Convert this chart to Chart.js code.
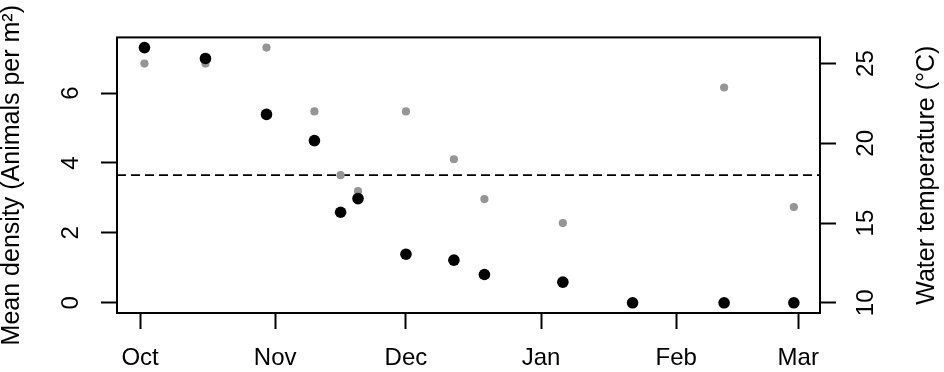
<!DOCTYPE html>
<html>
<head>
<meta charset="utf-8">
<script src="https://cdn.jsdelivr.net/npm/chart.js@4.4.1/dist/chart.umd.min.js"></script>
<style>
    html, body { margin: 0; padding: 0; background: #fff; }
</style>
</head>
<body>
<canvas id="myChart" width="944" height="372"></canvas>
<script>
// sampling days, counted from 1 October
var sampleDays = [1, 15, 29, 40, 46, 50, 61, 72, 79, 97, 113, 134, 150];
var density = [7.30, 6.99, 5.39, 4.64, 2.59, 2.98, 1.39, 1.22, 0.81, 0.59, 0, 0, 0];
var waterTemp = [25.0, 25.0, 26.0, 22.0, 18.0, 17.0, 22.0, 19.0, 16.5, 15.0, null, 23.5, 16.0];
var tempThreshold = 18;

var monthLabels = ['Oct', 'Nov', 'Dec', 'Jan', 'Feb', 'Mar'];
var monthStartDays = [0, 31, 61, 92, 123, 151];
var densityTicks = [0, 2, 4, 6];
var tempTicks = [10, 15, 20, 25];

window.onload = function () {
    Chart.defaults.font.family = '"Liberation Sans", Arial, sans-serif';
    Chart.defaults.color = '#000';

    var densityPoints = sampleDays.map(function (d, i) { return { x: d, y: density[i] }; });
    var tempPoints = [];
    sampleDays.forEach(function (d, i) {
        if (waterTemp[i] !== null) tempPoints.push({ x: d, y: waterTemp[i] });
    });

    // box, dashed threshold line and right-hand title
    var extras = {
        id: 'extras',
        beforeDatasetsDraw(chart) {
            var ctx = chart.ctx;
            var a = chart.chartArea;
            var yT = chart.scales.y2.getPixelForValue(tempThreshold);
            ctx.save();
            ctx.strokeStyle = '#000';
            ctx.lineWidth = 1.8;
            ctx.setLineDash([9, 5]);
            ctx.beginPath();
            ctx.moveTo(a.left, yT);
            ctx.lineTo(a.right, yT);
            ctx.stroke();
            ctx.setLineDash([]);
            ctx.lineWidth = 2;
            ctx.strokeRect(a.left, a.top, a.right - a.left, a.bottom - a.top);
            ctx.restore();
        },
        afterDraw(chart) {
            var ctx = chart.ctx;
            var a = chart.chartArea;
            ctx.save();
            ctx.translate(chart.scales.y2.right - 16.5, (a.top + a.bottom) / 2);
            ctx.rotate(-Math.PI / 2);
            ctx.font = '25px "Liberation Sans", Arial, sans-serif';
            ctx.fillStyle = '#000';
            ctx.textAlign = 'center';
            ctx.textBaseline = 'middle';
            ctx.fillText('Water temperature (°C)', 0, 0);
            ctx.restore();
        }
    };

    var tickGrid = {
        drawOnChartArea: false,
        drawTicks: true,
        tickLength: 16,
        tickWidth: 2,
        tickColor: '#000'
    };

    var ctx = document.getElementById('myChart').getContext('2d');
    new Chart(ctx, {
        type: 'scatter',
        data: {
            datasets: [{
                label: 'Mean density',
                data: densityPoints,
                yAxisID: 'y',
                backgroundColor: '#000',
                borderColor: '#000',
                borderWidth: 0,
                pointRadius: 5.8,
                order: 0
            }, {
                label: 'Water temperature',
                data: tempPoints,
                yAxisID: 'y2',
                backgroundColor: '#959595',
                borderColor: '#959595',
                borderWidth: 0,
                pointRadius: 4.1,
                order: 1
            }]
        },
        options: {
            responsive: false,
            animation: false,
            devicePixelRatio: 1,
            layout: { padding: { top: 30, left: 0, right: 0, bottom: 0 } },
            plugins: {
                legend: { display: false },
                tooltip: { enabled: false }
            },
            scales: {
                x: {
                    type: 'linear',
                    position: 'bottom',
                    min: -5.3,
                    max: 156,
                    afterBuildTicks: function (axis) {
                        axis.ticks = monthStartDays.map(function (v) { return { value: v }; });
                    },
                    afterFit: function (s) { s.height = 59; },
                    border: { display: false },
                    grid: tickGrid,
                    ticks: {
                        autoSkip: false,
                        maxRotation: 0,
                        padding: 15,
                        font: { size: 24 },
                        callback: function (v, i) { return monthLabels[i]; }
                    }
                },
                y: {
                    type: 'linear',
                    position: 'left',
                    min: -0.292,
                    max: 7.592,
                    afterBuildTicks: function (axis) {
                        axis.ticks = densityTicks.map(function (v) { return { value: v }; });
                    },
                    afterFit: function (s) { s.width = 117; },
                    border: { display: false },
                    grid: tickGrid,
                    title: {
                        display: true,
                        text: 'Mean density (Animals per m²)',
                        font: { size: 25, lineHeight: 1 },
                        padding: 0
                    },
                    ticks: {
                        autoSkip: false,
                        minRotation: 90,
                        maxRotation: 90,
                        crossAlign: 'center',
                        padding: 23,
                        font: { size: 24 }
                    }
                },
                y2: {
                    type: 'linear',
                    position: 'right',
                    min: 9.36,
                    max: 26.64,
                    afterBuildTicks: function (axis) {
                        axis.ticks = tempTicks.map(function (v) { return { value: v }; });
                    },
                    afterFit: function (s) { s.width = 124; },
                    border: { display: false },
                    grid: tickGrid,
                    ticks: {
                        autoSkip: false,
                        minRotation: 90,
                        maxRotation: 90,
                        crossAlign: 'center',
                        padding: 17,
                        font: { size: 24 }
                    }
                }
            }
        },
        plugins: [extras]
    });
};
</script>
</body>
</html>
